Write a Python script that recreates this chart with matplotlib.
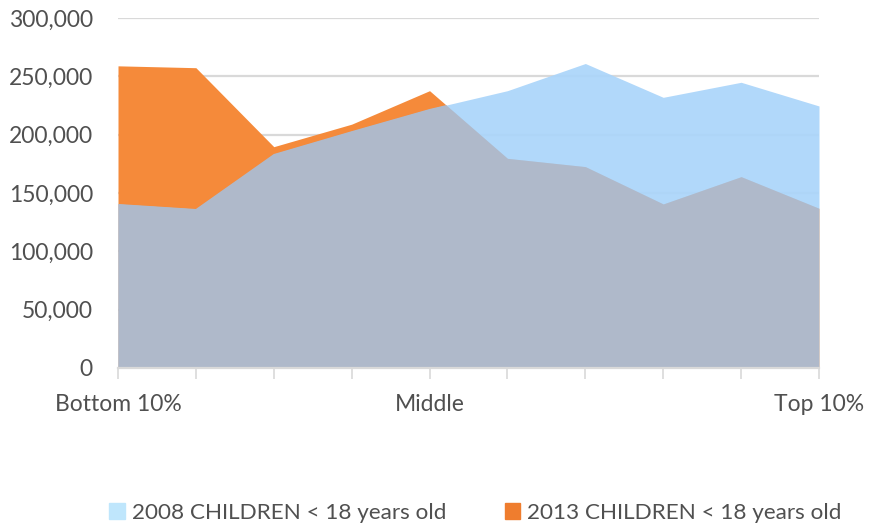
import matplotlib.pyplot as plt
from matplotlib.patches import Patch
import numpy as np

plt.rcParams['font.family'] = ['Lato', 'DejaVu Sans']

groups = ["Bottom 10%", "", "", "", "Middle", "", "", "", "", "Top 10%"]
children_2008 = [140600, 136300, 183400, 203000, 222000, 237700, 261000, 232000, 244900, 224600]
children_2013 = [259000, 257400, 189700, 209000, 237700, 179700, 172600, 140600, 164000, 136900]

blue = "#abd5fa"
orange = "#f58a3a"
overlap = "#afb9ca"
grid_c = "#d9d9d9"
text_c = "#505050"

x = np.arange(len(groups))

fig = plt.figure(figsize=(8.69, 5.28), dpi=100)
ax = fig.add_axes([118 / 869, 1 - 368 / 528, (819 - 118) / 869, 350 / 528])

for yv in range(50000, 300001, 50000):
    ax.axhline(yv, color=grid_c, lw=1.6, zorder=0)

ax.fill_between(x, 0, children_2013, color=orange, lw=0, zorder=1)
b = ax.fill_between(x, 0, children_2008, color=blue, lw=0, alpha=0.93, zorder=2)
# overlap of both series: 2013 area clipped to the 2008 area
g = ax.fill_between(x, 0, children_2013, color=overlap, lw=0, zorder=3)
g.set_clip_path(b.get_paths()[0], transform=ax.transData)

ax.set_xlim(0, len(groups) - 1)
ax.set_ylim(0, 300000)
ax.set_yticks(range(0, 300001, 50000))
ax.set_yticklabels([f"{v:,}" for v in range(0, 300001, 50000)])
ax.set_xticks(x)
ax.set_xticklabels(groups)

for s in ["top", "right", "left"]:
    ax.spines[s].set_visible(False)
ax.spines["bottom"].set_color(grid_c)
ax.spines["bottom"].set_linewidth(1.6)
ax.spines["bottom"].set_zorder(4)
ax.tick_params(axis="x", length=8, width=1.2, color=grid_c, pad=11,
               labelsize=16.5, labelcolor=text_c)
ax.tick_params(axis="y", length=0, pad=18, labelsize=16.5, labelcolor=text_c)

handles = [Patch(color="#bfe6fc", label="2008 CHILDREN < 18 years old"),
           Patch(color="#ef7d2e", label="2013 CHILDREN < 18 years old")]
fig.legend(handles=handles, loc="lower center", bbox_to_anchor=(0.547, -0.028),
           ncol=2, frameon=False, fontsize=16.2, labelcolor=text_c,
           handlelength=0.7, handleheight=0.7, handletextpad=0.3, columnspacing=2.6)

fig.savefig("out.png", dpi=100)
